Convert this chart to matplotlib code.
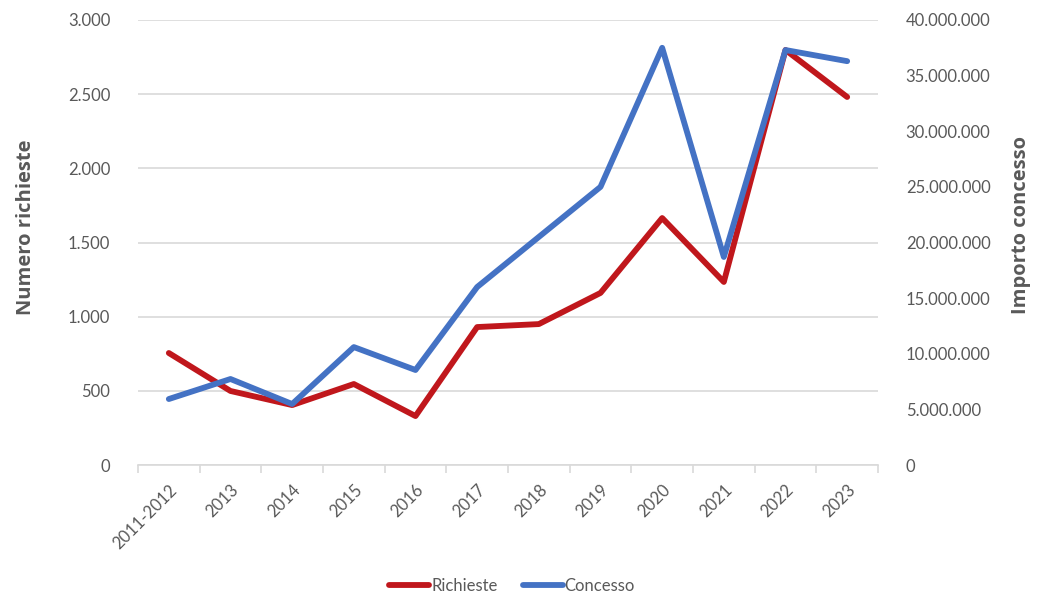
import numpy as np
import matplotlib.pyplot as plt
from matplotlib.ticker import FuncFormatter, FixedLocator

plt.rcParams['font.family'] = ['Lato', 'DejaVu Sans']

# dati
anni = ['2011-2012', '2013', '2014', '2015', '2016', '2017', '2018',
        '2019', '2020', '2021', '2022', '2023']
richieste = [755, 499, 404, 546, 330, 930, 950, 1160, 1665, 1234, 2798, 2481]
concesso = [5930000, 7730000, 5480000, 10600000, 8540000, 16000000, 20500000,
            25000000, 37500000, 18700000, 37300000, 36300000]

grigio = '#595959'
rosso = '#C0171C'
blu = '#4472C4'

fig = plt.figure(figsize=(10.43, 5.96), dpi=100)
ax = fig.add_axes([138/1043, 1-465/596, 740/1043, 445/596])
ax2 = ax.twinx()

x = np.arange(len(anni))
l1, = ax.plot(x, richieste, color=rosso, lw=4.2, solid_capstyle='round', label='Richieste', zorder=3)
l2, = ax2.plot(x, concesso, color=blu, lw=4.2, solid_capstyle='round', label='Concesso', zorder=3)

ax.set_xlim(-0.5, len(anni) - 0.5)
ax.set_ylim(0, 3000)
ax2.set_ylim(0, 40000000)
ax.set_yticks(np.arange(0, 3001, 500))
ax2.set_yticks(np.arange(0, 40000001, 5000000))

fmt = FuncFormatter(lambda v, p: f'{int(v):,}'.replace(',', '.'))
ax.yaxis.set_major_formatter(fmt)
ax2.yaxis.set_major_formatter(fmt)

ax.set_xticks(x)
ax.set_xticklabels(anni, rotation=45, ha='right', rotation_mode='anchor')
ax.xaxis.set_minor_locator(FixedLocator(np.arange(-0.5, len(anni), 1)))
ax.tick_params(axis='x', which='major', length=0, pad=12, labelsize=12, labelcolor=grigio)
ax.tick_params(axis='x', which='minor', length=6, color='#D9D9D9', width=1.2)
ax.tick_params(axis='y', length=0, labelsize=12, labelcolor=grigio, pad=20)
ax2.tick_params(axis='y', length=0, labelsize=12, labelcolor=grigio, pad=20)

ax.grid(axis='y', color='#D9D9D9', lw=1.2)
ax.set_axisbelow(True)
for s in ['top', 'left', 'right']:
    ax.spines[s].set_visible(False)
    ax2.spines[s].set_visible(False)
ax.spines['bottom'].set_color('#D9D9D9')
ax.spines['bottom'].set_linewidth(1.2)
ax2.spines['bottom'].set_visible(False)

titolo = dict(fontsize=14.5, fontweight='bold', color=grigio, family=['Open Sans', 'DejaVu Sans'])
ax.set_ylabel('Numero richieste', labelpad=23, **titolo)
ax2.set_ylabel('Importo concesso', labelpad=15, **titolo)
ax.yaxis.label.set_y(0.535)
ax2.yaxis.label.set_y(0.54)

fig.legend(handles=[l1, l2], loc='center', bbox_to_anchor=(512/1043, 1-586/596),
           ncol=2, frameon=False, fontsize=12, labelcolor=grigio,
           handlelength=2.4, handletextpad=0.1, columnspacing=1.5)

plt.savefig('out.png', dpi=100)
